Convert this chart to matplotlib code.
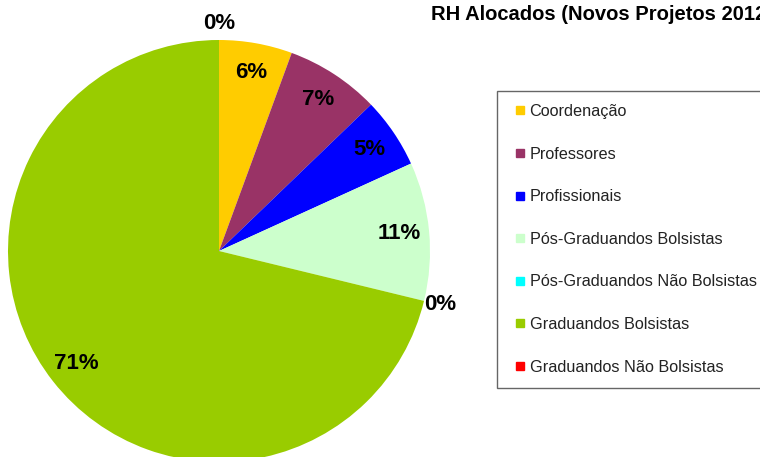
import numpy as np
import matplotlib
matplotlib.use('Agg')
from matplotlib import pyplot as plt
from matplotlib.lines import Line2D

plt.rcParams['font.family'] = ['Liberation Sans', 'DejaVu Sans']

# data (percent of allocated staff)
categorias = ['Coordenação', 'Professores', 'Profissionais', 'Pós-Graduandos Bolsistas',
              'Pós-Graduandos Não Bolsistas', 'Graduandos Bolsistas', 'Graduandos Não Bolsistas']
valores = [5.6, 7.2, 5.4, 10.6, 0.0, 71.2, 0.0]
cores = ['#FFCC00', '#993366', '#0000FF', '#CCFFCC', '#00FFFF', '#99CC00', '#FF0000']
titulo = 'RH Alocados (Novos Projetos 2012)'

W, H = 760, 457
fig = plt.figure(figsize=(W / 100, H / 100), dpi=100)

# pie centre / radius in pixels
cx, cy, r = 219, 251, 211
ax = fig.add_axes([(cx - r) / W, (H - cy - r) / H, 2 * r / W, 2 * r / H])
wedges, _ = ax.pie(valores, colors=cores, startangle=90, counterclock=False,
                   radius=1, center=(0, 0), wedgeprops=dict(linewidth=0))
ax.set_xlim(-1, 1)
ax.set_ylim(-1, 1)
ax.set_aspect('equal')
ax.axis('off')

total = sum(valores)
for w, v in zip(wedges, valores):
    ang = np.deg2rad((w.theta1 + w.theta2) / 2)
    d = 0.86 if v > 0 else 1.08
    ax.text(d * np.cos(ang), d * np.sin(ang), '%d%%' % round(100 * v / total),
            ha='center', va='center', fontsize=16, fontweight='bold', color='black')

# title runs past the right edge, as in the original
fig.text(431 / W, 1 - 20 / H, titulo, fontsize=14.5, fontweight='bold', ha='left', va='baseline')

handles = [Line2D([], [], marker='s', linestyle='none', markersize=6,
                  markerfacecolor=c, markeredgecolor=c) for c in cores]
leg = fig.legend(handles, categorias, loc='upper left', bbox_to_anchor=(497 / W, 1 - 91 / H),
                 fontsize=11.7, frameon=True, fancybox=False, labelspacing=1.7,
                 handlelength=1.2, handletextpad=0.0, borderpad=0.8, borderaxespad=0)
leg.get_frame().set_edgecolor('#404040')
leg.get_frame().set_linewidth(1.0)
for t in leg.get_texts():
    t.set_color('#222222')

plt.savefig('out.png', dpi=100)
